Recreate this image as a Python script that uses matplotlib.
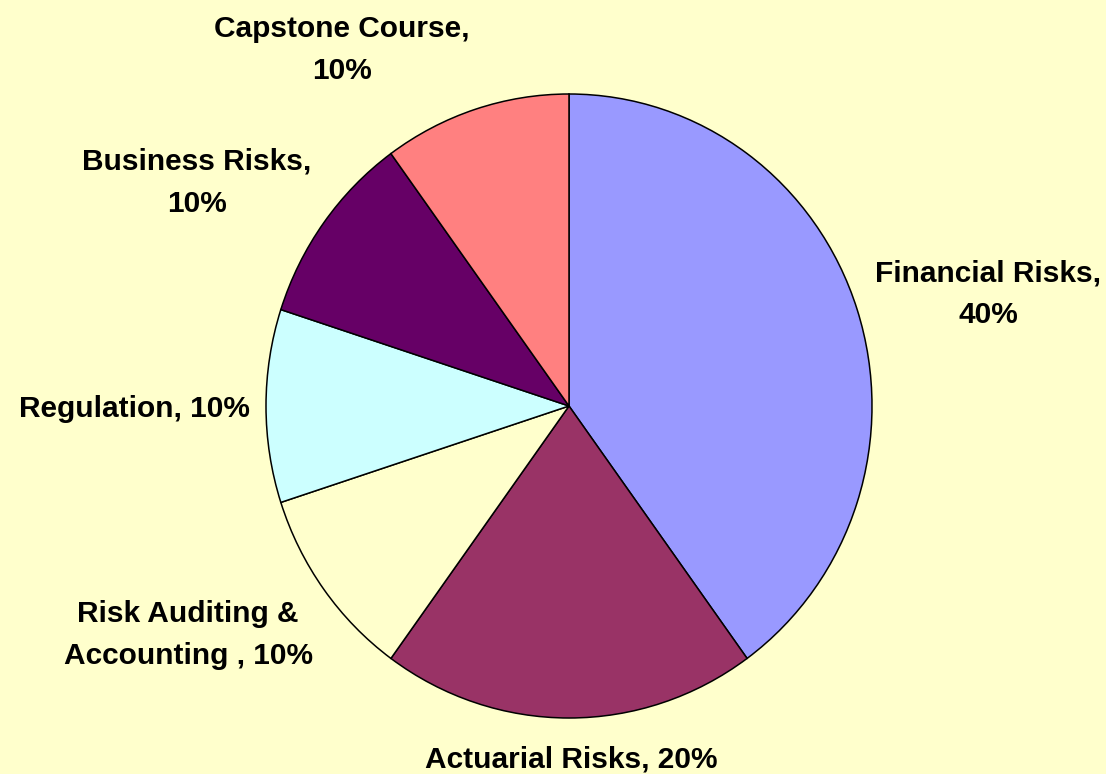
import matplotlib
matplotlib.use("Agg")
import matplotlib.pyplot as plt

categories = ["Financial Risks", "Actuarial Risks", "Risk Auditing &\nAccounting ",
              "Regulation", "Business Risks", "Capstone Course"]
values = [40, 20, 10, 10, 10, 10]
colors = ["#9999FF", "#993366", "#FFFFCC", "#CCFFFF", "#660066", "#FF8080"]
label_texts = ["Financial Risks,\n40%", "Actuarial Risks, 20%",
               "Risk Auditing &\nAccounting , 10%", "Regulation, 10%",
               "Business Risks,\n10%", "Capstone Course,\n10%"]
# label anchor positions (pixel coords from top-left: x center, first baseline)
label_px = [(988, 281), (571, 768), (188, 622), (134, 417), (197, 170), (342, 37)]
line_gap = 42

W, H = 1106, 774
fig = plt.figure(figsize=(W / 100, H / 100), dpi=100)
fig.patch.set_facecolor("#FFFFCC")

left, right, top, bottom = 266, 872, 94, 718
ax = fig.add_axes([left / W, (H - bottom) / H, (right - left) / W, (bottom - top) / H])
ax.pie(values, colors=colors, startangle=90, counterclock=False, radius=1,
       wedgeprops=dict(edgecolor="black", linewidth=1.1))
ax.set_aspect("auto")
ax.set_xlim(-1, 1)
ax.set_ylim(-1, 1)
ax.axis("off")

for txt, (px, py) in zip(label_texts, label_px):
    for i, line in enumerate(txt.split("\n")):
        y = py + i * line_gap
        fig.text(px / W, (H - y) / H, line, ha="center", va="baseline",
                 fontsize=21.5, fontweight="bold",
                 family="Liberation Sans", color="black")

fig.savefig("out.png", dpi=100, facecolor=fig.get_facecolor())
